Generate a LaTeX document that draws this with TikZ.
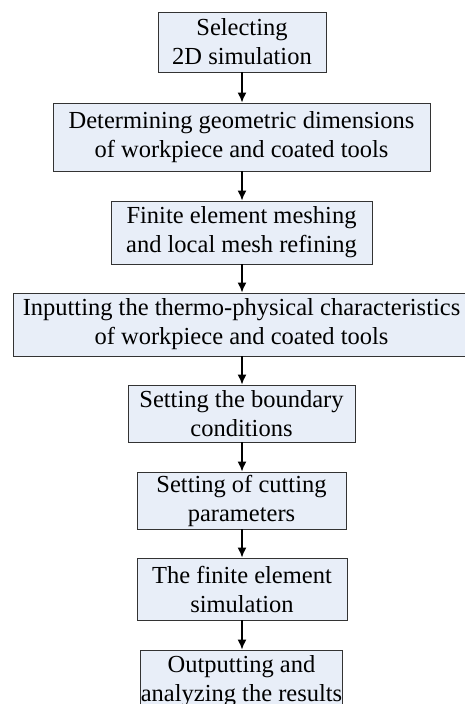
\documentclass[tikz,border=0pt]{standalone}
\usepackage{fontspec}
\setmainfont{Liberation Serif}
\usetikzlibrary{arrows.meta}
\definecolor{boxfill}{HTML}{E8EEF8}
\tikzset{
   stepbox/.style={draw=black!80, line width=0.9pt, fill=boxfill, align=center,
      inner sep=0pt, font=\fontsize{24.5}{29}\selectfont},
   flow/.style={line width=1.5pt, -{Latex[length=10pt,width=9pt]}}
}
\begin{document}
\begin{tikzpicture}[x=1pt, y=-1pt]
   \useasboundingbox (0, 0) rectangle (465, 704);
   % steps of the simulation
   \node[stepbox, minimum width=168pt, minimum height=60pt] (sel) at (242, 42)
      {Selecting\\2D simulation};
   \node[stepbox, minimum width=377pt, minimum height=68pt] (geo) at (241.5, 137)
      {Determining geometric dimensions\\of workpiece and coated tools};
   \node[stepbox, minimum width=261pt, minimum height=63pt] (mesh) at (241.5, 232.5)
      {Finite element meshing\\and local mesh refining};
   \node[stepbox, minimum width=457pt, minimum height=63pt] (prop) at (241.5, 324.5)
      {Inputting the thermo-physical characteristics\\of workpiece and coated tools};
   \node[stepbox, minimum width=227pt, minimum height=57pt] (bound) at (241.5, 413.5)
      {Setting the boundary\\conditions};
   \node[stepbox, minimum width=209pt, minimum height=57pt] (cut) at (241.5, 500.5)
      {Setting of cutting\\parameters};
   \node[stepbox, minimum width=210pt, minimum height=62pt] (sim) at (242, 589)
      {The finite element\\simulation};
   \node[stepbox, minimum width=195pt, minimum height=62pt] (res) at (241.5, 681)
      {Outputting and\\analyzing the results};
   % arrows
   \foreach \a/\b in {sel/geo, geo/mesh, mesh/prop, prop/bound, bound/cut, cut/sim, sim/res} {
      \draw[flow] (\a.south -| 242, 0) -- (\b.north -| 242, 0);
   }
\end{tikzpicture}
\end{document}
